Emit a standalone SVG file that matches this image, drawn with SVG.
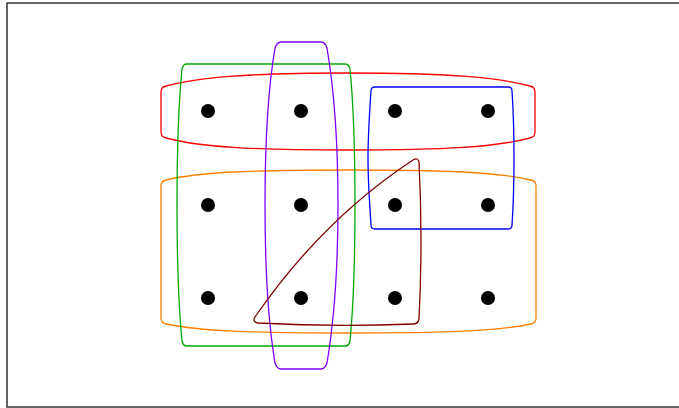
<svg xmlns="http://www.w3.org/2000/svg" width="679" height="408" viewBox="0 0 679 408">
<style>
.set{fill:none;stroke-width:1.3;stroke-linejoin:round}
.dot{fill:#000}
</style>
<rect x="0" y="0" width="679" height="408" fill="#fff"/>
<rect x="7" y="3" width="700" height="404" fill="none" stroke="#333" stroke-width="1.5"/>
<g id="sets">
<path id="red" class="set" stroke="#ff0000" d="M161,92 Q161,87 166,86 C200,77 250,73 348,73 C446,73 496,77 530,86 Q535,87 535,92 L535,132 Q535,137 530,138 C496,147 446,150 348,150 C250,150 200,147 166,138 Q161,137 161,132 Z"/>
<path id="orange" class="set" stroke="#ff8000" d="M161,186 Q161,181 166,180 C200,172 250,170 348,170 C446,170 496,172 531,180 Q536,181 536,186 L536,318 Q536,323 531,324 C496,331 446,333 348,333 C250,333 200,331 166,324 Q161,323 161,318 Z"/>
<path id="green" class="set" stroke="#00aa00" d="M187,64 L345,64 Q349,64 350,69 C354,110 355,160 355,205 C355,250 354,300 350,341 Q349,346 345,346 L187,346 Q183,346 182,341 C178,300 177,250 177,205 C177,160 178,110 182,69 Q183,64 187,64 Z"/>
<path id="purple" class="set" stroke="#8000ff" d="M281,42 L321,42 Q325,42 327,48 C335,95 338,150 338,205 C338,260 335,315 327,363 Q325,369 321,369 L281,369 Q277,369 275,363 C267,315 265,260 265,205 C265,150 267,95 275,48 Q277,42 281,42 Z"/>
<path id="blue" class="set" stroke="#0000ff" d="M375,87 L508,87 Q512,87 512,91 C514,120 514,140 514,158 C514,176 514,196 512,225 Q512,229 508,229 L375,229 Q371,229 371,225 C369,196 368,176 368,158 C368,140 369,120 371,91 Q371,87 375,87 Z"/>
<path id="brown" class="set" stroke="#800000" d="M255,317 Q322,220 413,160 Q418,157 419,162 Q423,241 419,319 Q418,324 413,324 Q334,327 258,323 Q252,322 255,317 Z"/>
</g>
<g id="points">
<circle class="dot" cx="208" cy="111" r="7"/>
<circle class="dot" cx="301" cy="111" r="7"/>
<circle class="dot" cx="395" cy="111" r="7"/>
<circle class="dot" cx="488" cy="111" r="7"/>
<circle class="dot" cx="208" cy="205" r="7"/>
<circle class="dot" cx="301" cy="205" r="7"/>
<circle class="dot" cx="395" cy="205" r="7"/>
<circle class="dot" cx="488" cy="205" r="7"/>
<circle class="dot" cx="208" cy="298" r="7"/>
<circle class="dot" cx="301" cy="298" r="7"/>
<circle class="dot" cx="395" cy="298" r="7"/>
<circle class="dot" cx="488" cy="298" r="7"/>
</g>
</svg>
